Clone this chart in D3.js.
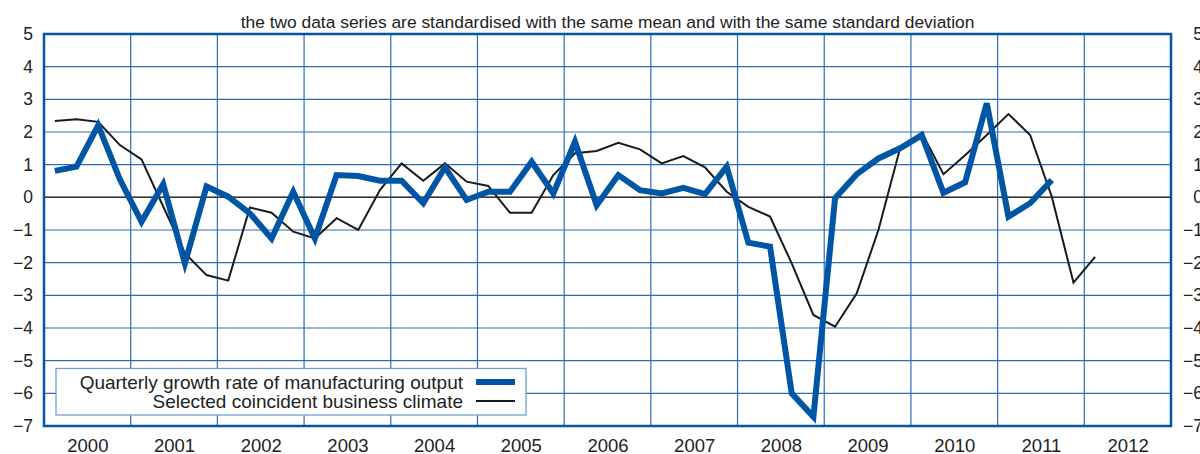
<!DOCTYPE html>
<html>
<head>
<meta charset="utf-8">
<script src="https://cdn.jsdelivr.net/npm/d3@7"></script>
<style>
  body { margin: 0; background: #fff; }
  svg { display: block; font-family: "Liberation Sans", Arial, Helvetica, sans-serif; }
</style>
</head>
<body>
<svg id="chart"></svg>
<script>
// quarterly values, first point 2000 Q1
const output = [
  0.81, 0.94, 2.2, 0.55, -0.75, 0.4, -2.02, 0.33, 0.02, -0.49, -1.26, 0.17, -1.26,
  0.68, 0.65, 0.51, 0.51, -0.18, 0.92, -0.08, 0.17, 0.17, 1.09, 0.12, 1.7, -0.24,
  0.68, 0.22, 0.12, 0.29, 0.1, 0.94, -1.39, -1.51, -6.0, -6.72, -0.03, 0.71, 1.19,
  1.5, 1.9, 0.14, 0.46, 2.88, -0.59, -0.18, 0.53
]
const climate = [
  2.34, 2.39, 2.31, 1.6, 1.16, -0.28, -1.71, -2.38, -2.55, -0.31, -0.47, -1.05, -1.26,
  -0.64, -1.0, 0.22, 1.04, 0.51, 1.04, 0.48, 0.35, -0.47, -0.47, 0.68, 1.35, 1.42,
  1.67, 1.47, 1.04, 1.26, 0.92, 0.17, -0.29, -0.59, -2.02, -3.6, -3.96, -2.94, -1.0,
  1.5, 1.98, 0.71, 1.29, 1.91, 2.55, 1.91, 0.02, -2.61, -1.82
]
const years = d3.range(2000, 2013)
const yTicks = d3.range(-7, 6)
const title = 'the two data series are standardised with the same mean and with the same standard deviation'
const labels = ['Quarterly growth rate of manufacturing output', 'Selected coincident business climate']

const width = 1200
const height = 454
const margin = { top: 34, right: 29, bottom: 28, left: 44 }
const frameColor = '#0055a5'
const gridColor = '#2f6db6'

const svg = d3.select('#chart').attr('width', width).attr('height', height)

const x = d3.scaleLinear().domain([2000, 2013]).range([margin.left, width - margin.right])
const y = d3.scaleLinear().domain([-7, 5]).range([height - margin.bottom, margin.top])

const qx = (d, i) => x(2000 + (i + 0.5) / 4)

// grid
svg.append('g')
  .selectAll('line')
  .data(yTicks)
  .join('line')
  .attr('x1', x(2000)).attr('x2', x(2013))
  .attr('y1', d => y(d)).attr('y2', d => y(d))
  .attr('stroke', gridColor)
  .attr('stroke-width', 1.2)

svg.append('g')
  .selectAll('line')
  .data(d3.range(2001, 2013))
  .join('line')
  .attr('x1', d => x(d)).attr('x2', d => x(d))
  .attr('y1', y(5)).attr('y2', y(-7))
  .attr('stroke', gridColor)
  .attr('stroke-width', 1.2)

// zero line
svg.append('line')
  .attr('x1', x(2000)).attr('x2', x(2013))
  .attr('y1', y(0)).attr('y2', y(0))
  .attr('stroke', '#333')
  .attr('stroke-width', 1.5)

const line = d3.line().x(qx).y(d => y(d))

svg.append('path')
  .datum(climate)
  .attr('d', line)
  .attr('fill', 'none')
  .attr('stroke', '#1a1a1a')
  .attr('stroke-width', 2)

svg.append('path')
  .datum(output)
  .attr('d', line)
  .attr('fill', 'none')
  .attr('stroke', '#0055a4')
  .attr('stroke-width', 6)

// frame
svg.append('rect')
  .attr('x', x(2000)).attr('y', y(5))
  .attr('width', x(2013) - x(2000)).attr('height', y(-7) - y(5))
  .attr('fill', 'none')
  .attr('stroke', frameColor)
  .attr('stroke-width', 2.5)

// axes
const fmt = d => (d < 0 ? '\u2212' + Math.abs(d) : String(d))
const left = svg.append('g').attr('transform', `translate(${x(2000) - 11},0)`)
  .call(d3.axisLeft(y).tickValues(yTicks).tickFormat(fmt).tickSize(0).tickPadding(0))
const right = svg.append('g').attr('transform', `translate(${x(2013) + 32},0)`)
  .call(d3.axisLeft(y).tickValues(yTicks).tickFormat(fmt).tickSize(0).tickPadding(0))
const bottom = svg.append('g').attr('transform', `translate(0,452)`)
  .call(d3.axisBottom(d3.scaleLinear().domain([2000, 2013]).range(x.range()))
    .tickValues(years.map(d => d + 0.5)).tickFormat(d => Math.floor(d)).tickSize(0).tickPadding(0))

for (const g of [left, right, bottom]) {
  g.select('.domain').remove()
  g.selectAll('text').attr('font-size', 17.5).attr('fill', '#222').attr('font-family', null)
}
bottom.selectAll('text').attr('font-size', 18.5).attr('dy', 0).attr('y', 0)

svg.append('text')
  .attr('x', (x(2000) + x(2013)) / 2)
  .attr('y', 28)
  .attr('text-anchor', 'middle')
  .attr('font-size', 17.4)
  .attr('fill', '#222')
  .text(title)

// legend
const lg = svg.append('g')
lg.append('rect')
  .attr('x', 56).attr('y', 368.5).attr('width', 470).attr('height', 46.5)
  .attr('fill', '#fff')
  .attr('stroke', '#6f9fd6')
  .attr('stroke-width', 1.3)

const legendItems = [
  { label: labels[0], color: '#0055a4', w: 6, y: 382 },
  { label: labels[1], color: '#1a1a1a', w: 2, y: 401 }
]
legendItems.forEach(d => {
  lg.append('text')
    .attr('x', 463).attr('y', d.y + 6.5)
    .attr('text-anchor', 'end')
    .attr('font-size', 19)
    .attr('fill', '#222')
    .text(d.label)
  lg.append('line')
    .attr('x1', 476).attr('x2', 515)
    .attr('y1', d.y).attr('y2', d.y)
    .attr('stroke', d.color)
    .attr('stroke-width', d.w)
})
</script>
</body>
</html>
